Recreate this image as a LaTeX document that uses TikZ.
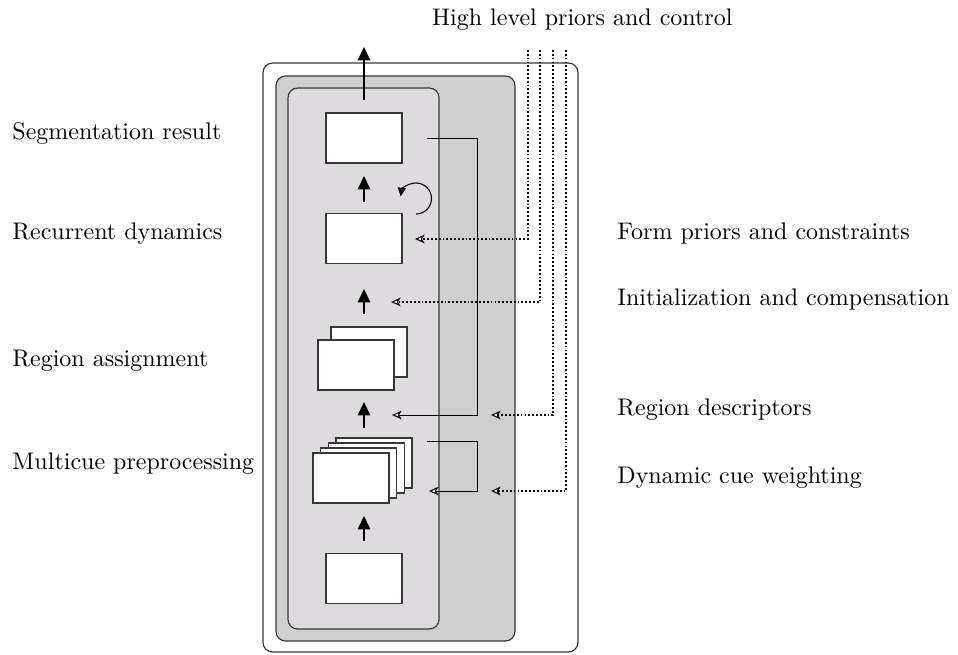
\documentclass[tikz,border=0pt]{standalone}
\usetikzlibrary{arrows.meta}
\definecolor{midgray}{RGB}{207,207,207}
\definecolor{innergray}{RGB}{221,219,222}
\definecolor{edgegray}{RGB}{55,55,55}
\begin{document}
\begin{tikzpicture}[x=0.41667pt,y=-0.41667pt,
  box/.style={draw=edgegray, fill=white, line width=0.5pt, minimum width=31.67pt, minimum height=20.83pt, inner sep=0pt, outer sep=0pt},
  lbl/.style={anchor=base west, inner sep=0pt},
  flow/.style={line width=0.85pt, -{Triangle[length=5.6pt,width=5.2pt]}},
  fb/.style={line width=0.4pt, -{Stealth[length=4pt,width=3.6pt,inset=1.1pt,fill=white,line width=0.45pt]}},
  ctl/.style={line width=0.75pt, dash pattern=on 0.75pt off 0.85pt, -{Stealth[length=4pt,width=3.6pt,inset=1.1pt,fill=white,line width=0.45pt]}},
  panel/.style={draw=edgegray, line width=0.5pt, rounded corners=4pt}
]
\useasboundingbox (0,0) rectangle (958,654);

% containers
\draw[panel, fill=white] (263,63) rectangle (578,652);
\draw[panel, fill=midgray] (276,76) rectangle (515,641);
\draw[panel, fill=innergray] (288,88) rectangle (439,629);

% boxes
\node[box] (seg) at (364,138) {};
\node[box] (rec) at (364,238.5) {};
\node[box] (ra2) at (369,352) {};
\node[box] (ra1) at (356,365) {};
\node[box] (mc4) at (374,463) {};
\node[box] (mc3) at (366.3,468) {};
\node[box] (mc2) at (358.7,473) {};
\node[box] (mc1) at (351,478) {};
\node[box] (inp) at (364,578.5) {};

% flow arrows
\coordinate (o1) at (364,100); \coordinate (o2) at (364,47);
\coordinate (a1s) at (364,202); \coordinate (a1e) at (364,176);
\coordinate (a2s) at (364,314); \coordinate (a2e) at (364,289);
\coordinate (a3s) at (364,428); \coordinate (a3e) at (364,402);
\coordinate (a4s) at (364,541); \coordinate (a4e) at (364,516);
\draw[flow] (o1) -- (o2);
\draw[flow] (a1s) -- (a1e);
\draw[flow] (a2s) -- (a2e);
\draw[flow] (a3s) -- (a3e);
\draw[flow] (a4s) -- (a4e);

% recurrent loop
\coordinate (lp) at (416,214);
\draw[line width=0.45pt, -{Triangle[length=3.6pt,width=3.4pt]}] (lp) arc[start angle=90, end angle=-172, radius=15.5];

% feedback lines
\coordinate (f1s) at (427,138); \coordinate (f1e) at (392,415);
\draw[fb] (f1s) -- (477,138) -- (477,415) -- (f1e);
\coordinate (f2s) at (427,441); \coordinate (f2e) at (429,491);
\draw[fb] (f2s) -- (477,441) -- (477,491) -- (f2e);

% control lines
\coordinate (c1t) at (528,50); \coordinate (c1e) at (415,239);
\coordinate (c2t) at (540,50); \coordinate (c2e) at (391,302);
\coordinate (c3t) at (553,50); \coordinate (c3e) at (491,415);
\coordinate (c4t) at (566,50); \coordinate (c4e) at (491,491);
\draw[ctl] (c1t) |- (c1e);
\draw[ctl] (c2t) |- (c2e);
\draw[ctl] (c3t) |- (c3e);
\draw[ctl] (c4t) |- (c4e);

% labels
\node[anchor=base east, inner sep=0pt] (hl) at (733,25) {High level priors and control};
\node[lbl] (l1) at (12,139) {Segmentation result};
\node[lbl] (l2) at (12,239) {Recurrent dynamics};
\node[lbl] (l3) at (12,366) {Region assignment};
\node[lbl] (l4) at (12,469) {Multicue preprocessing};
\node[lbl] (r1) at (617,239) {Form priors and constraints};
\node[lbl] (r2) at (617,305) {Initialization and compensation};
\node[lbl] (r3) at (617,415) {Region descriptors};
\node[lbl] (r4) at (617,483) {Dynamic cue weighting};
\end{tikzpicture}
\end{document}
